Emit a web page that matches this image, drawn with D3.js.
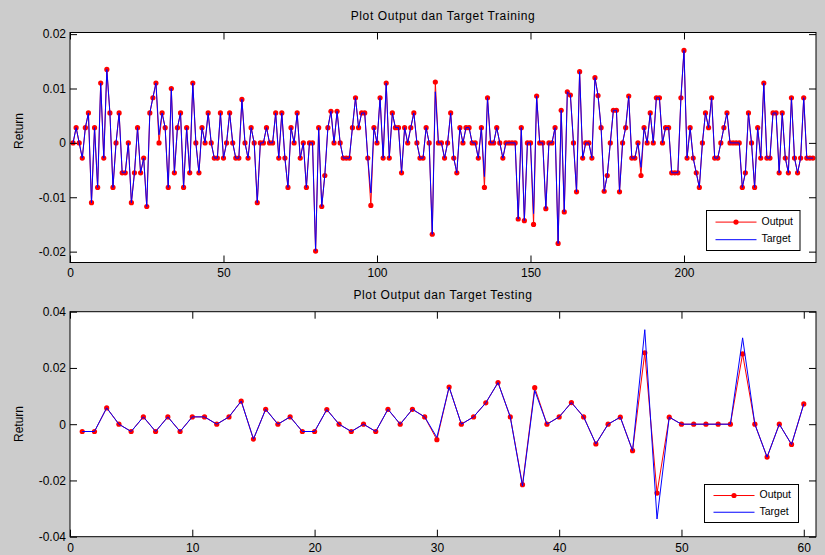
<!DOCTYPE html>
<html>
<head>
<meta charset="utf-8">
<script src="https://cdn.jsdelivr.net/npm/d3@7"></script>
<style>
  html, body { margin: 0; padding: 0; background: #cccccc; }
  svg { display: block; font-family: "Liberation Sans", Arial, Helvetica, sans-serif; }
</style>
</head>
<body>
<svg id="chart" width="825" height="555"></svg>
<script>
// ---- training data (return per observation) ----
const trainOutput = [
  0, 0.0028, 0, -0.0028, 0.0028, 0.0055, -0.011, 0.0028, -0.0082, 0.011,
  -0.0028, 0.0135, 0.0055, -0.0082, 0, 0.0055, -0.0055, -0.0055, 0, -0.011,
  -0.0055, 0.0028, -0.0055, -0.0028, -0.0117, 0.0055, 0.0083, 0.011, 0, 0.0055,
  0.0028, -0.0082, 0.0100, -0.0055, 0.0028, 0.0055, -0.0082, 0.0028, -0.0055, 0.011,
  0, -0.0055, 0.0028, 0, 0.0055, 0, -0.0028, -0.0028, 0.0055, -0.0028,
  0, 0.0055, 0, -0.0028, -0.0028, 0.0080, 0, -0.0028, 0.0028, 0,
  -0.011, 0, 0, 0.0028, 0, 0, 0.0055, -0.0028, 0.0055, -0.0028,
  -0.0082, 0.0028, 0, 0.0055, -0.0028, 0, -0.0082, 0, 0, -0.0199,
  0.0028, -0.0117, -0.0060, 0.0028, 0.0058, 0, 0.0058, 0, -0.0028, -0.0028,
  -0.0028, 0.0028, 0.0083, 0.0028, 0.0055, 0.0055, -0.0028, -0.0115, 0.0028, 0,
  0.0083, -0.0028, 0.011, -0.0028, 0.0055, 0.0028, 0.0028, -0.0055, 0.0028, 0,
  0.0028, 0.0055, 0, -0.0028, -0.0028, 0.0028, 0, -0.0168, 0.0112, 0,
  0, -0.0028, 0, 0.0055, -0.0028, -0.0055, 0.0028, 0, 0.0028, 0.0028,
  0, 0, -0.0028, 0.0028, -0.0082, 0.0083, 0, 0, 0.0028, 0,
  -0.0028, 0, 0, 0, 0, -0.0140, 0.0028, -0.0143, 0, 0,
  -0.0150, 0.0086, 0, 0, -0.0121, 0, 0, 0.0028, -0.0185, 0.0060,
  -0.0127, 0.0094, 0.0088, 0, -0.0090, 0.0131, -0.0028, 0, 0, -0.0028,
  0.0120, 0.0087, 0.0028, -0.0089, -0.0060, 0, 0.0060, 0.0060, -0.0090, 0,
  0.0028, 0.0086, -0.0028, -0.0028, 0, -0.0060, 0.0028, 0, 0.0055, 0,
  0.0083, 0.0083, 0, 0.0028, 0.0028, -0.0055, -0.0055, -0.0055, 0.0083, 0.0170,
  -0.0028, 0.0028, -0.0028, -0.0055, -0.0082, 0, 0.0055, 0.0028, 0.0083, -0.0028,
  -0.0028, 0, 0.0028, 0.0055, 0, 0, 0, 0, -0.0082, -0.0055,
  0.0055, 0, -0.0082, 0.0028, -0.0028, 0.011, -0.0028, -0.0028, 0.0055, 0.0055,
  -0.0055, 0.0055, -0.0028, -0.0055, 0.0083, -0.0028, -0.0055, -0.0028, 0.0083, -0.0028,
  -0.0028, -0.0028
];
const trainTarget = [
  0, 0.0028, 0, -0.0028, 0.0028, 0.0055, -0.011, 0.0028, -0.0082, 0.011,
  -0.0028, 0.0135, 0.0055, -0.0082, 0, 0.0055, -0.0055, -0.0055, 0, -0.011,
  -0.0055, 0.0028, -0.0055, -0.0028, -0.0117, 0.0055, 0.0083, 0.011, 0.0015, 0.0055,
  0.0028, -0.0082, 0.0100, -0.0055, 0.0028, 0.0055, -0.0082, 0.0028, -0.0055, 0.011,
  0, -0.0055, 0.0028, 0, 0.0055, 0, -0.0028, -0.0028, 0.0055, -0.0028,
  0, 0.0055, 0, -0.0028, -0.0028, 0.0080, 0, -0.0028, 0.0028, 0,
  -0.011, 0, 0, 0.0028, 0, 0, 0.0055, -0.0028, 0.0055, -0.0028,
  -0.0082, 0.0028, 0, 0.0055, -0.0028, 0, -0.0082, 0, 0, -0.0199,
  0.0028, -0.0117, -0.0060, 0.0028, 0.0058, 0, 0.0058, 0, -0.0028, -0.0028,
  -0.0028, 0.0028, 0.0083, 0.0028, 0.0055, 0.0055, -0.0028, -0.0092, 0.0028, 0,
  0.0083, -0.0028, 0.011, -0.0028, 0.0055, 0.0028, 0.0028, -0.0055, 0.0028, 0,
  0.0028, 0.0055, 0, -0.0028, -0.0028, 0.0028, 0, -0.0168, 0.0094, 0,
  0, -0.0028, 0, 0.0055, -0.0028, -0.0055, 0.0028, 0, 0.0028, 0.0028,
  0, 0, -0.0028, 0.0028, -0.0062, 0.0083, 0, 0, 0.0028, 0,
  -0.0028, 0, 0, 0, 0, -0.0140, 0.0028, -0.0143, 0, 0,
  -0.0130, 0.0086, 0, 0, -0.0121, 0, 0, 0.0028, -0.0185, 0.0060,
  -0.0127, 0.0094, 0.0088, 0, -0.0090, 0.0131, -0.0028, 0, 0, -0.0028,
  0.0120, 0.0087, 0.0028, -0.0089, -0.0060, 0, 0.0060, 0.0060, -0.0090, 0,
  0.0028, 0.0086, -0.0028, -0.0028, 0, -0.0045, 0.0028, 0, 0.0055, 0,
  0.0083, 0.0083, 0, 0.0028, 0.0028, -0.0055, -0.0055, -0.0055, 0.0083, 0.0170,
  -0.0028, 0.0028, -0.0028, -0.0055, -0.0082, 0, 0.0055, 0.0028, 0.0083, -0.0028,
  -0.0028, 0, 0.0028, 0.0055, 0, 0, 0, 0, -0.0082, -0.0055,
  0.0055, 0, -0.0082, 0.0028, -0.0028, 0.011, -0.0028, -0.0028, 0.0055, 0.0055,
  -0.0055, 0.0055, -0.0028, -0.0055, 0.0083, -0.0028, -0.0055, -0.0028, 0.0083, -0.0028,
  -0.0028, -0.0028
];

// ---- testing data ----
const testOutput = [
  -0.0026, -0.0026, 0.0058, 0, -0.0026, 0.0026, -0.0026, 0.0026, -0.0026, 0.0026,
  0.0026, 0, 0.0026, 0.0082, -0.0053, 0.0053, 0, 0.0026, -0.0026, -0.0026,
  0.0052, 0, -0.0026, 0, -0.0026, 0.0053, 0, 0.0053, 0.0026, -0.0055,
  0.0132, 0, 0.0026, 0.0076, 0.0148, 0.0026, -0.0215, 0.0130, 0, 0.0026,
  0.0077, 0.0026, -0.0070, 0, 0.0025, -0.0094, 0.0254, -0.0245, 0.0025, 0,
  0, 0, 0, 0, 0.0250, 0, -0.0117, 0, -0.0072, 0.0072
];
const testTarget = [
  -0.0026, -0.0026, 0.0058, 0, -0.0026, 0.0026, -0.0026, 0.0026, -0.0026, 0.0026,
  0.0026, 0, 0.0026, 0.0082, -0.0053, 0.0053, 0, 0.0026, -0.0026, -0.0026,
  0.0052, 0, -0.0026, 0, -0.0026, 0.0053, 0, 0.0053, 0.0026, -0.0047,
  0.0132, 0, 0.0026, 0.0076, 0.0148, 0.0026, -0.0220, 0.0120, 0, 0.0026,
  0.0077, 0.0026, -0.0070, 0, 0.0025, -0.0094, 0.0336, -0.0337, 0.0025, 0,
  0, 0, 0, 0, 0.0307, 0, -0.0117, 0, -0.0072, 0.0072
];

// ---- axis ticks ----
const trainXTicks = [0, 50, 100, 150, 200];
const trainYTicks = [-0.02, -0.01, 0, 0.01, 0.02];
const testXTicks = [0, 10, 20, 30, 40, 50, 60];
const testYTicks = [-0.04, -0.02, 0, 0.02, 0.04];

const titles = ["Plot Output dan Target Training", "Plot Output dan Target Testing"];
const seriesNames = ["Output", "Target"];

const RED = "#ff0000", BLUE = "#0000ff";
const locale = d3.formatLocale({decimal: ".", thousands: ",", grouping: [3], currency: ["", ""], minus: "-"});
const fmt = v => v === 0 ? "0" : locale.format(".2f")(v);

const svg = d3.select("#chart");
svg.append("rect").attr("width", 825).attr("height", 555).attr("fill", "#cccccc");

function panel(cfg) {
  const {left, right, top, bottom, xDomain, yDomain, xTicks, yTicks, output, target, title, titleY, ylabelY, xPad, legend} = cfg;
  const x = d3.scaleLinear().domain(xDomain).range([left, right]);
  const y = d3.scaleLinear().domain(yDomain).range([bottom, top]);
  const g = svg.append("g");

  g.append("rect").attr("x", left).attr("y", top)
    .attr("width", right - left).attr("height", bottom - top).attr("fill", "#ffffff");

  const clipId = "clip" + Math.round(top);
  g.append("clipPath").attr("id", clipId).append("rect")
    .attr("x", left).attr("y", top).attr("width", right - left).attr("height", bottom - top);

  const plot = g.append("g").attr("clip-path", `url(#${clipId})`);
  const line = d3.line().x((d, i) => x(i + 1)).y(d => y(d));

  plot.append("path").datum(output).attr("d", line)
    .attr("fill", "none").attr("stroke", RED).attr("stroke-width", 1);
  plot.append("g").selectAll("circle").data(output).join("circle")
    .attr("cx", (d, i) => x(i + 1)).attr("cy", d => y(d)).attr("r", 2.6).attr("fill", RED);
  plot.append("path").datum(target).attr("d", line)
    .attr("fill", "none").attr("stroke", BLUE).attr("stroke-width", 1);

  // ticks point inward on every side, MATLAB-style box
  const tl = 7;
  const ax = (a) => a.tickSizeOuter(0);
  g.append("g").attr("transform", `translate(0,${bottom})`)
    .call(ax(d3.axisBottom(x).tickValues(xTicks).tickSizeInner(-tl).tickPadding(xPad).tickFormat(d3.format("d"))));
  g.append("g").attr("transform", `translate(0,${top})`)
    .call(ax(d3.axisTop(x).tickValues(xTicks).tickSizeInner(-tl).tickFormat("")));
  g.append("g").attr("transform", `translate(${left},0)`)
    .call(ax(d3.axisLeft(y).tickValues(yTicks).tickSizeInner(-tl).tickPadding(4).tickFormat(fmt)));
  g.append("g").attr("transform", `translate(${right},0)`)
    .call(ax(d3.axisRight(y).tickValues(yTicks).tickSizeInner(-tl).tickFormat("")));
  g.selectAll(".domain").remove();
  g.selectAll(".tick line").attr("stroke", "#000").attr("stroke-width", 1);
  g.selectAll(".tick text").attr("font-size", 12).attr("fill", "#000")
    .attr("font-family", "\"Liberation Sans\", Arial, sans-serif");

  g.append("rect").attr("x", left).attr("y", top)
    .attr("width", right - left).attr("height", bottom - top)
    .attr("fill", "none").attr("stroke", "#000").attr("stroke-width", 1);

  svg.append("text").attr("x", (left + right) / 2).attr("y", titleY)
    .attr("text-anchor", "middle").attr("dominant-baseline", "middle")
    .attr("font-size", 12).attr("letter-spacing", 0.6).attr("fill", "#000").text(title);

  svg.append("text").attr("transform", `translate(20,${ylabelY}) rotate(-90)`)
    .attr("text-anchor", "middle").attr("dominant-baseline", "middle")
    .attr("font-size", 12).attr("fill", "#000").text("Return");

  // legend
  const L = legend;
  const lg = svg.append("g");
  lg.append("rect").attr("x", L.x).attr("y", L.y).attr("width", L.w).attr("height", L.h)
    .attr("fill", "#ffffff").attr("stroke", "#000").attr("stroke-width", 1);
  const rows = [{name: seriesNames[0], color: RED, marker: true}, {name: seriesNames[1], color: BLUE, marker: false}];
  rows.forEach((r, k) => {
    const yy = L.y + L.h * (k === 0 ? 0.29 : 0.73);
    lg.append("line").attr("x1", L.x + 9).attr("x2", L.x + 50).attr("y1", yy).attr("y2", yy)
      .attr("stroke", r.color).attr("stroke-width", 1);
    if (r.marker) lg.append("circle").attr("cx", L.x + 29.5).attr("cy", yy).attr("r", 2.6).attr("fill", RED);
    lg.append("text").attr("x", L.x + 55).attr("y", yy).attr("dominant-baseline", "middle")
      .attr("font-size", 10.5).attr("fill", "#000").text(r.name);
  });
}

panel({
  left: 70, right: 816, top: 32.5, bottom: 262.5,
  xDomain: [0, 243], yDomain: [-0.022, 0.0203],
  xTicks: trainXTicks, yTicks: trainYTicks,
  output: trainOutput, target: trainTarget,
  title: titles[0], titleY: 17, ylabelY: 131, xPad: 6,
  legend: {x: 706.5, y: 210.5, w: 93.5, h: 40}
});

panel({
  left: 70, right: 816, top: 311.7, bottom: 536.7,
  xDomain: [0, 61], yDomain: [-0.04, 0.04],
  xTicks: testXTicks, yTicks: testYTicks,
  output: testOutput, target: testTarget,
  title: titles[1], titleY: 296, ylabelY: 424, xPad: 7,
  legend: {x: 704.5, y: 484.5, w: 94, h: 38}
});
</script>
</body>
</html>
